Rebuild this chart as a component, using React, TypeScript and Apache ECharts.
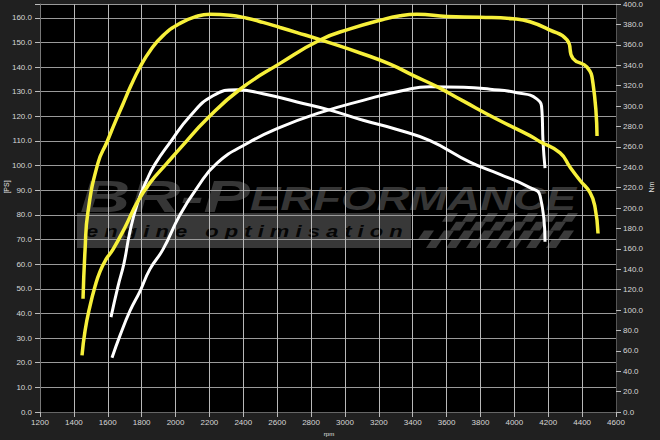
import React, { useEffect, useRef } from 'react';
import * as echarts from 'echarts';

// x axis (rpm)
const rpmMin = 1200;
const rpmMax = 4600;
const rpmStep = 200;

// Tuned torque (yellow, right axis, Nm)
const tunedTorqueRpm = [1454, 1466, 1483, 1542, 1596, 1643, 1690, 1737, 1790, 1849, 1926, 2026, 2127, 2203, 2322, 2422, 2516, 2617, 2717, 2853, 3107, 3266, 3402, 3543, 3697, 3898, 4092, 4152, 4270, 4329, 4388, 4447, 4476, 4494];
const tunedTorque = [111, 159, 196, 244, 265, 284, 302, 320, 338, 354, 369, 381, 388, 390, 389, 386, 382, 377, 372, 365, 351, 341, 330, 319, 305, 287, 271, 265, 254, 240, 227, 215, 201, 175];

// Tuned power (yellow, left axis)
const tunedPowerRpm = [1448, 1466, 1495, 1525, 1554, 1590, 1631, 1702, 1773, 1849, 1950, 2040, 2186, 2381, 2617, 2853, 3030, 3207, 3325, 3425, 3603, 3797, 3992, 4092, 4211, 4311, 4346, 4429, 4464, 4488];
const tunedPower = [23, 33, 43, 51, 57, 62, 66, 75, 85, 93, 101, 108, 119, 131, 141.5, 151, 155.5, 159, 160.8, 161.4, 160.5, 160.2, 159.6, 158.4, 155, 151, 143.5, 140, 133.4, 112];

// Stock torque (white, right axis, Nm)
const stockTorqueRpm = [1619, 1660, 1696, 1731, 1778, 1832, 1879, 1967, 2085, 2221, 2363, 2516, 2717, 2912, 3107, 3307, 3502, 3738, 3915, 4092, 4152, 4181];
const stockTorque = [93, 123, 146, 177, 206, 228, 243, 264, 290, 310, 316, 312, 304, 296, 286, 277, 266, 245, 233, 220, 212, 167];

// Stock power (white, left axis)
const stockPowerRpm = [1625, 1672, 1731, 1790, 1849, 1926, 2026, 2127, 2245, 2422, 2617, 2853, 3107, 3343, 3502, 3700, 3856, 4016, 4134, 4163, 4169, 4181];
const stockPower = [22, 31, 41, 49, 58, 66, 80, 91, 101, 109, 115.5, 121.5, 126.5, 130.5, 132, 131.8, 131, 129.6, 127, 122, 110, 99];

const leftMax = 165.6;
const rightMax = 400;

const zip = (xs: number[], ys: number[]) => xs.map((x, i) => [x, ys[i]]);

function buildFlag() {
  const els: any[] = [];
  const x0 = 422;
  const y0 = 213;
  const rows = 4;
  const h = 8.75;
  const w = 10;
  const cols = 15;
  for (let j = 0; j < rows; j++) {
    for (let i = 0; i < cols; i++) {
      if ((i + j) % 2 !== 0) continue;
      if (i < 2 && j < 2) continue;
      const skew = 6;
      const xa = x0 + i * w - j * 2;
      const ya = y0 + j * h;
      els.push({
        type: 'polygon',
        shape: {
          points: [
            [xa + skew, ya],
            [xa + w + skew, ya],
            [xa + w, ya + h],
            [xa, ya + h],
          ],
        },
        style: { fill: '#3a3a3a' },
        silent: true,
      });
    }
  }
  return els;
}

export default function App() {
  const ref = useRef<HTMLDivElement>(null);
  useEffect(() => {
    document.body.style.margin = '0';
    if (!ref.current) return;
    const chart = echarts.init(ref.current, null, { renderer: 'svg' });
    const labelFont = { color: '#d6d6d6', fontSize: 8, fontFamily: 'Liberation Sans, Arial, sans-serif' };
    chart.setOption({
      animation: false,
      backgroundColor: '#202020',
      grid: { left: 40, right: 44, top: 0, bottom: 28, show: true, backgroundColor: '#000', borderWidth: 0 },
      xAxis: {
        type: 'value',
        min: rpmMin,
        max: rpmMax,
        interval: rpmStep,
        z: 5,
        axisLine: { show: true, lineStyle: { color: '#666' } },
        axisTick: { show: true, length: 5, lineStyle: { color: '#bbb' } },
        axisLabel: { ...labelFont, margin: 6, formatter: (v: number) => String(v) },
        splitLine: { show: true, lineStyle: { color: '#b8b8b8', width: 1 } },
      },
      yAxis: [
        {
          type: 'value',
          position: 'left',
          min: 0,
          max: leftMax,
          interval: 10,
          z: 5,
          axisLine: { show: true, lineStyle: { color: '#777' } },
          axisTick: { show: true, length: 5, lineStyle: { color: '#bbb' } },
          axisLabel: {
            ...labelFont,
            margin: 8,
            formatter: (v: number) => (Math.abs(v % 10) < 1e-6 && v <= 160 ? v.toFixed(1) : ''),
          },
          splitLine: { show: true, lineStyle: { color: '#9a9a9a', width: 1 } },
        },
        {
          type: 'value',
          position: 'right',
          min: 0,
          max: rightMax,
          interval: 20,
          z: 5,
          axisLine: { show: true, lineStyle: { color: '#555' } },
          axisTick: { show: true, length: 5, lineStyle: { color: '#bbb' } },
          axisLabel: { ...labelFont, margin: 7, formatter: (v: number) => v.toFixed(1) },
          splitLine: { show: false },
        },
      ],
      graphic: [
        {
          type: 'text',
          x: 80,
          y: 196,
          scaleX: 1.58,
          silent: true,
          style: { text: 'BR-P', font: 'italic bold 44px "Liberation Sans", Arial, sans-serif', fill: '#363636', verticalAlign: 'middle' },
        },
        {
          type: 'text',
          x: 250,
          y: 198,
          scaleX: 1.38,
          silent: true,
          style: { text: 'ERFORMANCE', font: 'italic bold 33px "Liberation Sans", Arial, sans-serif', fill: '#363636', verticalAlign: 'middle' },
        },
        {
          type: 'rect',
          silent: true,
          shape: { x: 77, y: 213, width: 334, height: 35 },
          style: { fill: '#383838' },
        },
        {
          type: 'text',
          x: 86,
          y: 231,
          scaleX: 1.29,
          silent: true,
          style: {
            text: 'e n g i n e   o p t i m i s a t i o n',
            font: 'italic bold 17px "Liberation Sans", Arial, sans-serif',
            fill: '#050505',
            verticalAlign: 'middle',
          },
        },
        ...buildFlag(),
        {
          type: 'text',
          x: 6,
          y: 187,
          rotation: Math.PI / 2,
          silent: true,
          style: { text: '[PS]', font: '7px "Liberation Sans", Arial, sans-serif', fill: '#e0e0e0', align: 'center', verticalAlign: 'middle' },
        },
        {
          type: 'text',
          x: 651,
          y: 187,
          rotation: Math.PI / 2,
          silent: true,
          style: { text: 'Nm', font: '7px "Liberation Sans", Arial, sans-serif', fill: '#e0e0e0', align: 'center', verticalAlign: 'middle' },
        },
        {
          type: 'text',
          x: 329,
          y: 434,
          silent: true,
          style: { text: 'rpm', font: '6px "Liberation Sans", Arial, sans-serif', fill: '#e0e0e0', align: 'center', verticalAlign: 'middle' },
        },
      ],
      series: [
        {
          name: 'Stock torque',
          type: 'line',
          yAxisIndex: 1,
          data: zip(stockTorqueRpm, stockTorque),
          showSymbol: false,
          smooth: 0.5,
          z: 10,
          lineStyle: { color: '#ffffff', width: 3 },
        },
        {
          name: 'Stock power',
          type: 'line',
          yAxisIndex: 0,
          data: zip(stockPowerRpm, stockPower),
          showSymbol: false,
          smooth: 0.5,
          z: 10,
          lineStyle: { color: '#ffffff', width: 3 },
        },
        {
          name: 'Tuned torque',
          type: 'line',
          yAxisIndex: 1,
          data: zip(tunedTorqueRpm, tunedTorque),
          showSymbol: false,
          smooth: 0.5,
          z: 11,
          lineStyle: { color: '#f7f03a', width: 3.5 },
        },
        {
          name: 'Tuned power',
          type: 'line',
          yAxisIndex: 0,
          data: zip(tunedPowerRpm, tunedPower),
          showSymbol: false,
          smooth: 0.5,
          z: 11,
          lineStyle: { color: '#f7f03a', width: 3.5 },
        },
      ],
    });
    return () => chart.dispose();
  }, []);
  return <div ref={ref} style={{ position: 'fixed', left: 0, top: 0, width: 660, height: 440 }} />;
}
